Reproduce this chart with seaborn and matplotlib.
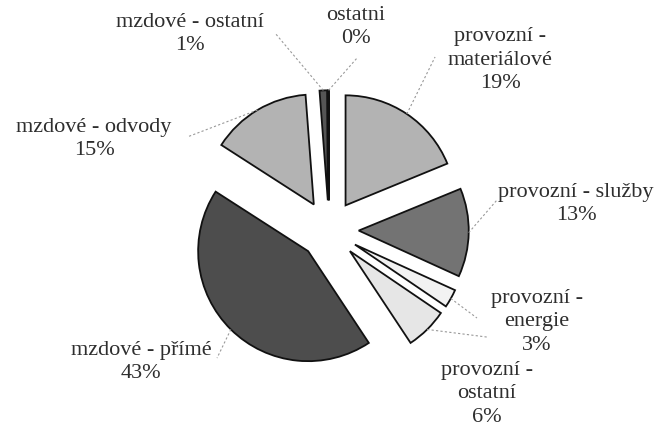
import numpy as np
import matplotlib
matplotlib.use('Agg')
import matplotlib.pyplot as plt
import seaborn as sns

# data
categories = ['provozní - materiálové', 'provozní - služby', 'provozní - energie',
              'provozní - ostatní', 'mzdové - přímé', 'mzdové - odvody',
              'mzdové - ostatní', 'ostatni']
values = [18.8, 13.0, 2.7, 6.2, 43.4, 14.7, 1.1, 0.1]
label_names = ['provozní -\nmateriálové', 'provozní - služby', 'provozní -\nenergie',
               'provozní -\nostatní', 'mzdové - přímé', 'mzdové - odvody',
               'mzdové - ostatní', 'ostatni']
colors = ['#b3b3b3', '#737373', '#f2f2f2', '#e6e6e6', '#4d4d4d', '#b3b3b3',
          '#555555', '#9a9a9a']

# label placement (pie radius = 1)
label_pos = [(1.555, 1.545), (2.245, 0.236), (1.891, -0.836), (1.436, -1.49),
             (-1.709, -1.20), (-2.136, 0.827), (-1.264, 1.782), (0.245, 1.845)]
leader_end = [(0.964, 1.573), (1.527, 0.273), (1.345, -0.80), (1.436, -0.973),
              (-1.018, -1.164), (-1.291, 0.845), (-0.491, 1.791), (0.255, 1.564)]

sns.set_theme(style='white')
plt.rcParams['font.family'] = ['Liberation Serif', 'DejaVu Serif']

fig = plt.figure(figsize=(6.62, 4.32), dpi=100)
ax = fig.add_axes([0, 0, 1, 1])

wedges, _ = ax.pie(values, colors=colors, startangle=90, counterclock=False,
                   explode=[0.27] * len(values), radius=1,
                   wedgeprops=dict(edgecolor='#111111', linewidth=1.3))

total = sum(values)
for w, name, v, (tx, ty), (lx, ly) in zip(wedges, label_names, values, label_pos, leader_end):
    ang = np.deg2rad((w.theta1 + w.theta2) / 2)
    cx, cy = w.center
    px, py = cx + w.r * np.cos(ang), cy + w.r * np.sin(ang)
    ax.plot([px, lx], [py, ly], color='#999999', lw=0.8, ls=(0, (2, 2)), zorder=1)
    ax.text(tx, ty, f'{name}\n{v / total * 100:.0f}%', ha='center', va='center',
            fontsize=16, color='#2e2e2e', linespacing=1.3)

ax.set_xlim(-2.991, 3.027)
ax.set_ylim(-1.836, 2.091)
ax.axis('off')

plt.savefig('out.png', dpi=100)
plt.close()
